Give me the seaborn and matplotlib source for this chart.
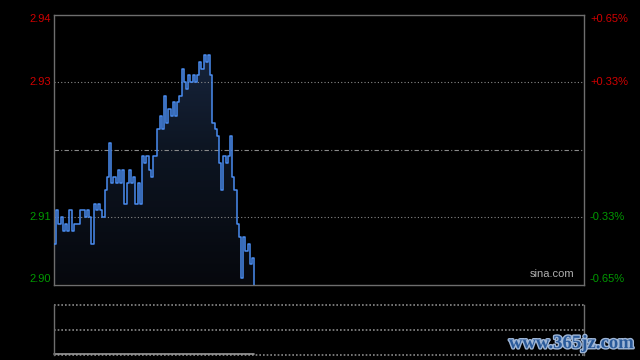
import numpy as np
import pandas as pd
import matplotlib
matplotlib.use("Agg")
import matplotlib.pyplot as plt
import matplotlib.patheffects as pe
from matplotlib.colors import LinearSegmentedColormap
import seaborn as sns

# ---- data ----
prices = [2.906, 2.911, 2.909, 2.910, 2.908, 2.909, 2.908, 2.911, 2.908, 2.909,
          2.909, 2.909, 2.911, 2.911, 2.910, 2.911, 2.910, 2.906, 2.912, 2.911,
          2.912, 2.911, 2.910, 2.914, 2.916, 2.921, 2.915, 2.916, 2.915, 2.917,
          2.915, 2.917, 2.912, 2.915, 2.917, 2.915, 2.916, 2.912, 2.915, 2.912,
          2.919, 2.918, 2.919, 2.917, 2.916, 2.919, 2.919, 2.923, 2.925, 2.923,
          2.928, 2.924, 2.926, 2.925, 2.927, 2.925, 2.927, 2.928, 2.932, 2.930,
          2.929, 2.931, 2.930, 2.931, 2.930, 2.931, 2.933, 2.932, 2.934, 2.933,
          2.934, 2.931, 2.924, 2.923, 2.922, 2.918, 2.914, 2.919, 2.918, 2.919,
          2.922, 2.916, 2.914, 2.909, 2.907, 2.901, 2.907, 2.905, 2.906, 2.903,
          2.904, 2.900]
left_ticks = [2.94, 2.93, 2.91, 2.90]
left_labels = ["2.94", "2.93", "2.91", "2.90"]
right_labels = ["+0.65%", "+0.33%", "-0.33%", "-0.65%"]
prev_close = 2.92
n_minutes = 242

df = pd.DataFrame({"minute": np.arange(len(prices)), "price": prices})

sns.set_style("dark")
plt.rcParams["font.family"] = ["Liberation Sans", "DejaVu Sans"]

fig = plt.figure(figsize=(6.4, 3.6), dpi=100, facecolor="black")
ax = fig.add_axes([54 / 640, 1 - 284.5 / 360, 530 / 640, 270 / 360])
axv = fig.add_axes([54 / 640, 1 - 354.5 / 360, 530 / 640, 50 / 360])

for a in (ax, axv):
    a.set_facecolor("black")
    a.set_xlim(0, n_minutes - 1)
    a.set_xticks([])
    a.set_yticks([])
    a.grid(False)
    for s in a.spines.values():
        s.set_color("#6e6e6e")
        s.set_linewidth(1)

ymin, ymax = 2.90, 2.94
ax.set_ylim(ymin, ymax)

# gradient fill under the line
cmap = LinearSegmentedColormap.from_list("g", ["#06080d", "#0d1522", "#1b2b47"])
grad = np.linspace(0, 1, 256).reshape(-1, 1)
im = ax.imshow(grad, aspect="auto", cmap=cmap, origin="lower",
               extent=[0, n_minutes - 1, ymin, ymax], zorder=1)
poly = ax.fill_between(df["minute"], df["price"], ymin, step="post",
                       color="none", lw=0)
path = poly.get_paths()[0]
im.set_clip_path(path, transform=ax.transData)

# grid lines
for yv in (2.93, 2.91):
    ax.axhline(yv, color="#8a8a8a", lw=0.8, ls=(0, (1, 2)), zorder=2)
ax.axhline(prev_close, color="#8a8a8a", lw=0.8, ls=(0, (4, 2, 1, 2)), zorder=2)

sns.lineplot(data=df, x="minute", y="price", ax=ax, color="#4a8cf0",
             lw=1.1, zorder=3, legend=False, drawstyle="steps-post")
ax.set_xlabel("")
ax.set_ylabel("")

# labels
colors = ["#d00000", "#d00000", "#009900", "#009900"]
offsets = [-5, 0, 0, 5]
for t, lab, rlab, c, off in zip(left_ticks, left_labels, right_labels, colors, offsets):
    ax.annotate(lab, xy=(0, t), xycoords=("axes fraction", "data"),
                xytext=(-3, off), textcoords="offset pixels",
                ha="right", va="center", fontsize=8, color=c)
    ax.annotate(rlab, xy=(1, t), xycoords=("axes fraction", "data"),
                xytext=(6, off), textcoords="offset pixels",
                ha="left", va="center", fontsize=8, color=c)

ax.text(0.982, 0.02, "sina.com", transform=ax.transAxes, ha="right",
        va="bottom", fontsize=8, color="#b0b0b0")

# volume panel
axv.set_ylim(0, 1)
axv.spines["top"].set_visible(False)
axv.spines["bottom"].set_visible(False)
for yv in (1.0, 0.5, 0.0):
    axv.axhline(yv, color="#8a8a8a", lw=1.2, ls=(0, (1, 1.2)), clip_on=False)
axv.plot(df["minute"], np.zeros(len(df)) + 0.005, color="#9a9a9a", lw=1.2,
         clip_on=False)

# watermark
fig.text(0.99, 0.022, "www.365jz.com", ha="right", va="bottom",
         fontsize=13.5, fontweight="bold", family=["Liberation Serif", "DejaVu Serif"],
         color="#2a5a9a",
         path_effects=[pe.withStroke(linewidth=2, foreground="#9fb6d6")])

fig.savefig("out.png", dpi=100, facecolor="black")
